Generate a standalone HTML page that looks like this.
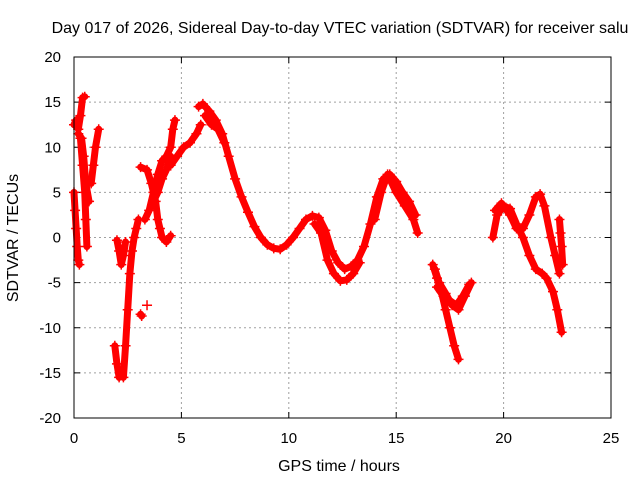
<!DOCTYPE html>
<html><head><meta charset="utf-8"><style>
body{margin:0;background:#fff}
svg{display:block;font-family:"Liberation Sans",sans-serif}
</style></head><body>
<svg id="chart" width="640" height="480" viewBox="0 0 640 480">
<rect width="640" height="480" fill="#fff"/>
<text x="340" y="33" font-size="16" text-anchor="middle">Day 017 of 2026, Sidereal Day-to-day VTEC variation (SDTVAR) for receiver salu</text>
<g id="grid"></g>
<g id="ticks"></g>
<g id="marks"></g>
<rect x="74" y="57" width="537" height="361" fill="none" stroke="#000" stroke-width="1"/>
<text x="339" y="471" font-size="16" text-anchor="middle">GPS time / hours</text>
<text x="18" y="238" font-size="16" text-anchor="middle" transform="rotate(-90 18 238)">SDTVAR / TECUs</text>
</svg>
<script>
const xTicks=[0,5,10,15,20,25];
const yTicks=[-20,-15,-10,-5,0,5,10,15,20];
const seriesA1=[[5.8,14.5],[6.0,14.8],[6.3,14],[6.6,13],[6.9,11.5],[7.2,9],[7.5,6.5],[7.8,4.5],[8.1,2.8],[8.4,1.2],[8.7,0],[9.0,-0.8],[9.3,-1.2],[9.6,-1.3],[9.9,-0.8],[10.2,0],[10.5,1],[10.8,2],[11.1,2.4],[11.4,2.2],[11.7,0.8],[12.0,-1.5],[12.3,-2.8],[12.6,-3.5],[12.9,-3.2],[13.2,-2.5],[13.5,-1],[13.8,1.5],[14.1,4.5],[14.4,6.5],[14.7,7],[15.0,6.2],[15.3,5],[15.6,4],[15.9,2.5]];
const seriesA2=[[11.2,1.5],[11.5,0.5],[11.8,-2.5],[12.1,-4],[12.4,-4.8],[12.7,-4.7],[13.0,-4],[13.3,-2.8]];
const seriesA3=[[14.0,2],[14.3,5],[14.6,7],[15.0,5],[15.4,3.5],[15.8,2],[16.0,0.5]];
const seriesA4=[[6.1,13.5],[6.4,12.5],[6.7,12],[7.0,10.5]];
const seriesB1=[[16.7,-3],[16.9,-4.5],[17.1,-6],[17.3,-8],[17.5,-10],[17.7,-12],[17.9,-13.5]];
const seriesB2=[[16.8,-3.5],[17.0,-5],[17.3,-6.2],[17.6,-7.5],[17.9,-8],[18.2,-6.5],[18.5,-5]];
const seriesB3=[[16.9,-5.5],[17.2,-6.5],[17.5,-7],[17.8,-7.5],[18.1,-6.5],[18.4,-5.2]];
const seriesC1=[[19.5,0],[19.7,2.5],[20.0,3.5],[20.3,3.2],[20.6,1.5],[20.9,0],[21.2,-2],[21.5,-3.5],[21.8,-4],[22.0,-4.5],[22.3,-6],[22.5,-8],[22.7,-10.5]];
const seriesC2=[[19.6,3],[19.9,3.8],[20.3,2.5],[20.6,1],[20.9,1],[21.2,2.5],[21.5,4.5],[21.7,4.8],[21.9,3.5],[22.2,0],[22.4,-2],[22.6,-4]];
const seriesC3=[[22.6,2],[22.65,0.5],[22.7,-1],[22.75,-3]];
const seriesD1=[[0.0,12.5],[0.1,13],[0.2,12],[0.3,13.5],[0.4,15.5],[0.5,15.6]];
const seriesD2=[[0.0,5],[0.05,3],[0.1,1],[0.15,-1],[0.2,-2.5],[0.25,-3]];
const seriesD3=[[0.3,11],[0.4,8],[0.5,5],[0.55,2],[0.6,-1]];
const seriesD4=[[0.2,11.5],[0.35,11],[0.45,9],[0.55,6],[0.7,4]];
const seriesD5=[[0.8,6],[0.9,8],[1.0,10],[1.15,12]];
const seriesE1=[[1.9,-12],[2.0,-14],[2.1,-15.5]];
const seriesE2=[[2.3,-15.5],[2.4,-12],[2.5,-8],[2.6,-4],[2.7,-1.5],[2.8,0],[2.9,1],[3.0,2]];
const seriesE3=[[2.0,-0.3],[2.1,-1.5],[2.2,-3],[2.3,-2],[2.4,-0.5]];
const seriesE4=[[3.1,-8.5],[3.15,-8.7]];
const seriesE5=[[3.4,-7.5]];
const seriesF1=[[3.1,7.8],[3.4,7.5],[3.6,6],[3.8,4],[3.9,2],[4.0,1],[4.1,0],[4.3,-0.5],[4.5,0.2]];
const seriesF2=[[3.3,2],[3.5,3],[3.7,5],[3.9,7],[4.1,8.5],[4.3,9],[4.5,10],[4.6,12],[4.7,13]];
const seriesF3=[[4.5,8],[4.8,9],[5.1,10],[5.4,10.5],[5.7,11.5],[5.9,12.5]];
const seriesF4=[[3.7,4],[3.9,5],[4.1,6.5],[4.3,7.5],[4.5,9]];
const allSeries=[seriesA1,seriesA2,seriesA3,seriesA4,seriesB1,seriesB2,seriesB3,seriesC1,seriesC2,seriesC3,seriesD1,seriesD2,seriesD3,seriesD4,seriesD5,seriesE1,seriesE2,seriesE3,seriesE4,seriesE5,seriesF1,seriesF2,seriesF3,seriesF4];

const L=74,R=611,T=57,B=418;
const xs=h=>L+(h-0)/(25-0)*(R-L);
const ys=v=>B-(v+20)/40*(B-T);
const NS="http://www.w3.org/2000/svg";
function mk(tag,attrs,parent){const e=document.createElementNS(NS,tag);for(const k in attrs)e.setAttribute(k,attrs[k]);parent.appendChild(e);return e;}
const grid=document.getElementById('grid'),ticks=document.getElementById('ticks'),marks=document.getElementById('marks');
xTicks.forEach(t=>{
  const x=xs(t);
  if(t>0&&t<25){const g=mk('line',{x1:x,x2:x,y1:T,y2:B,stroke:'#a0a0a0','stroke-dasharray':'2,3'},grid);
  
  }
  mk('line',{x1:x,x2:x,y1:B,y2:B-6,stroke:'#000'},ticks);
  mk('line',{x1:x,x2:x,y1:T,y2:T+6,stroke:'#000'},ticks);
  const tx=mk('text',{x:x,y:B+25,'font-size':15,'text-anchor':'middle'},ticks);
  tx.textContent=t;
  
  
});
yTicks.forEach(t=>{
  const y=ys(t);
  if(t>-20&&t<20){const g=mk('line',{x1:L,x2:R,y1:y,y2:y,stroke:'#a0a0a0','stroke-dasharray':'2,3'},grid);
  
  }
  mk('line',{x1:L,x2:L+6,y1:y,y2:y,stroke:'#000'},ticks);
  mk('line',{x1:R,x2:R-6,y1:y,y2:y,stroke:'#000'},ticks);
  const tx=mk('text',{x:L-13,y:y+5,'font-size':15,'text-anchor':'end'},ticks);
  tx.textContent=t;
  
  
});
allSeries.forEach((s,i)=>{
  const g=mk('g',{},marks);
  
  
  if(s.length>1){mk('polyline',{points:s.map(p=>xs(p[0])+','+ys(p[1])).join(' '),fill:'none',stroke:'#ff0000','stroke-width':7,'stroke-linejoin':'round','stroke-linecap':'round'},g);}
  s.forEach(p=>{
    const x=xs(p[0]),y=ys(p[1]);
    const m=mk('path',{d:`M${x-5},${y}H${x+5}M${x},${y-5}V${y+5}`,stroke:'#ff0000','stroke-width':1.5},g);
    
    
  });
});
</script>
</body></html>
